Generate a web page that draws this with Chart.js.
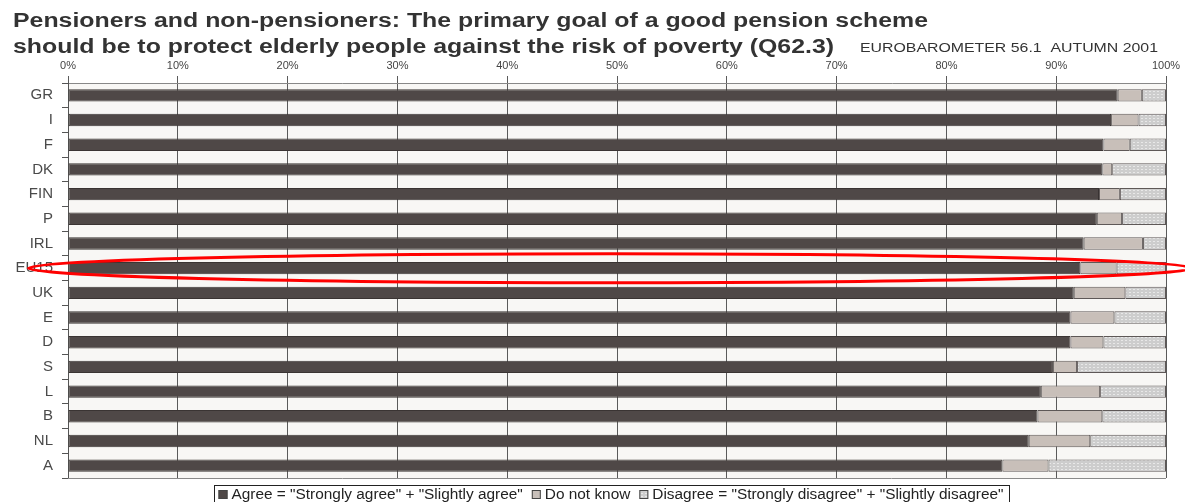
<!DOCTYPE html>
<html>
<head>
<meta charset="utf-8">
<script src="https://cdn.jsdelivr.net/npm/chart.js@4/dist/chart.umd.min.js"></script>
<style>
  html, body { margin: 0; padding: 0; background: #fff; }
  #wrap { width: 1185px; height: 502px; position: relative; }
</style>
</head>
<body>
<div id="wrap"><canvas id="myChart" width="1185" height="502"></canvas></div>
<script>
  var categories = ['GR', 'I', 'F', 'DK', 'FIN', 'P', 'IRL', 'EU15', 'UK', 'E', 'D', 'S', 'L', 'B', 'NL', 'A'];
  var agree    = [95.6, 95.0, 94.3, 94.2, 93.9, 93.7, 92.5, 92.2, 91.6, 91.3, 91.3, 89.7, 88.6, 88.3, 87.5, 85.1];
  var dontKnow = [2.2, 2.5, 2.4, 0.9, 1.9, 2.3, 5.4, 3.3, 4.7, 4.0, 3.0, 2.2, 5.4, 5.9, 5.6, 4.2];
  var disagree = [2.2, 2.5, 3.3, 4.9, 4.2, 4.0, 2.1, 4.5, 3.7, 4.7, 5.7, 8.1, 6.0, 5.8, 6.9, 10.7];
  var seriesNames = ['Agree = "Strongly agree" + "Slightly agree"', 'Do not know', 'Disagree = "Strongly disagree" + "Slightly disagree"'];
  var tickValues = [0, 10, 20, 30, 40, 50, 60, 70, 80, 90, 100];
  var titleLines = ['Pensioners and non-pensioners: The primary goal of a good pension scheme',
                    'should be to protect elderly people against the risk of poverty (Q62.3)'];
  var sourceNote = 'EUROBAROMETER 56.1  AUTUMN 2001';

  // dotted fill for the disagree segment
  function makePattern() {
    var c = document.createElement('canvas');
    c.width = 4; c.height = 3;
    var g = c.getContext('2d');
    g.fillStyle = '#cdcdcd';
    g.fillRect(0, 0, 4, 3);
    g.fillStyle = '#e8e8e8';
    g.fillRect(1, 1, 2, 1);
    return g.createPattern(c, 'repeat');
  }
  var dots = makePattern();

  var FONT = '"Liberation Sans", Arial, sans-serif';

  // text in the original is stretched sideways; draw with a horizontal scale
  function stretchText(c, text, x, y, sx) {
    c.save();
    c.translate(x, y);
    c.scale(sx, 1);
    c.fillText(text, 0, 0);
    c.restore();
  }

  var decor = {
    id: 'decor',
    beforeDraw: function (chart) {
      var a = chart.chartArea, c = chart.ctx;
      c.save();
      c.fillStyle = '#f8f7f5';
      c.fillRect(a.left, a.top, a.right - a.left, a.bottom - a.top);
      c.restore();
    },
    beforeDatasetsDraw: function (chart) {
      var a = chart.chartArea, c = chart.ctx;
      c.save();
      c.strokeStyle = '#8a8a8a';
      c.lineWidth = 1;
      c.beginPath();
      c.moveTo(a.left, a.bottom + 0.5);
      c.lineTo(a.right, a.bottom + 0.5);
      c.stroke();
      c.restore();
    },
    afterDraw: function (chart) {
      var c = chart.ctx;
      c.save();
      // title
      c.fillStyle = '#333';
      c.font = 'bold 19.5px ' + FONT;
      c.textBaseline = 'alphabetic';
      c.textAlign = 'left';
      var sx = 915 / c.measureText(titleLines[0]).width;
      stretchText(c, titleLines[0], 13, 27, sx);
      stretchText(c, titleLines[1], 13, 53, sx);
      c.font = '13.5px ' + FONT;
      stretchText(c, sourceNote, 860, 52, 298 / c.measureText(sourceNote).width);

      // legend
      var ds = chart.data.datasets;
      c.font = '14px ' + FONT;
      var gap = 9, box = 9, tgap = 4;
      var textW = 0;
      ds.forEach(function (d) { textW += c.measureText(d.label).width; });
      var fixed = ds.length * (box + tgap) + (ds.length - 1) * gap;
      var ls = (785 - fixed) / textW;
      var total = fixed + textW * ls;
      var x = 611 - total / 2, y = 494;
      c.strokeStyle = '#222';
      c.lineWidth = 1;
      c.strokeRect(Math.round(x - 5) + 0.5, 485.5, Math.round(total + 10), 20);
      c.textBaseline = 'middle';
      ds.forEach(function (d) {
        c.fillStyle = d.backgroundColor;
        c.fillRect(x, y - 4, box, box);
        c.strokeStyle = '#444';
        c.strokeRect(x + 0.5, y - 4 + 0.5, box - 1, box - 1);
        x += box + tgap;
        c.fillStyle = '#222';
        stretchText(c, d.label, x, y + 1, ls);
        x += c.measureText(d.label).width * ls + gap;
      });

      // red highlight around EU15
      var xs = chart.scales.x, ys = chart.scales.y;
      var cy = ys.getPixelForValue(categories.indexOf('EU15'));
      var cx = xs.getPixelForValue(49.4);
      var rx = (xs.right - xs.left) * 0.53;
      c.strokeStyle = '#ff0000';
      c.lineWidth = 3;
      c.beginPath();
      c.ellipse(cx, cy, rx, 14.5, 0, 0, Math.PI * 2);
      c.stroke();
      c.restore();
    }
  };

  new Chart(document.getElementById('myChart'), {
    type: 'bar',
    data: {
      labels: categories,
      datasets: [{
        label: seriesNames[0],
        data: agree,
        backgroundColor: '#4f4847',
        borderColor: '#3a3433',
        borderWidth: 1,
        borderSkipped: false
      }, {
        label: seriesNames[1],
        data: dontKnow,
        backgroundColor: '#c8bfb9',
        borderColor: '#5e5857',
        borderWidth: 1,
        borderSkipped: false
      }, {
        label: seriesNames[2],
        data: disagree,
        backgroundColor: dots,
        borderColor: '#5e5857',
        borderWidth: 1,
        borderSkipped: false
      }]
    },
    options: {
      indexAxis: 'y',
      responsive: false,
      animation: false,
      layout: { padding: { left: 0, right: 19, top: 50, bottom: 24 } },
      datasets: { bar: { barPercentage: 0.5, categoryPercentage: 1 } },
      plugins: {
        legend: { display: false },
        title: { display: false },
        tooltip: { enabled: false }
      },
      scales: {
        x: {
          position: 'top',
          stacked: true,
          min: 0,
          max: 100,
          afterBuildTicks: function (scale) {
            scale.ticks = tickValues.map(function (v) { return { value: v }; });
          },
          afterFit: function (scale) { scale.height = 33; },
          ticks: {
            callback: function (v) { return v + '%'; },
            color: '#444',
            font: { family: FONT, size: 11 },
            padding: 3,
            maxRotation: 0
          },
          grid: { color: '#5a5a5a', lineWidth: 1, tickLength: 7 },
          border: { color: '#888' }
        },
        y: {
          stacked: true,
          afterFit: function (scale) { scale.width = 68; },
          ticks: {
            color: '#4a4a4a',
            font: { family: FONT, size: 15 },
            padding: 9
          },
          grid: { offset: true, drawOnChartArea: false, color: '#555', tickLength: 6 },
          border: { color: '#555' }
        }
      }
    },
    plugins: [decor]
  });
</script>
</body>
</html>
